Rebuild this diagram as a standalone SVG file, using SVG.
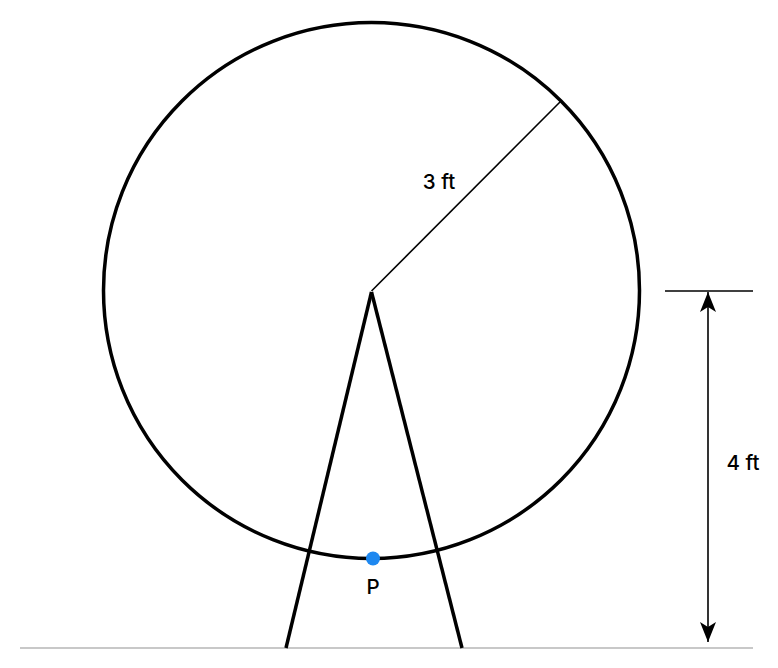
<svg xmlns="http://www.w3.org/2000/svg" width="778" height="668" viewBox="0 0 778 668">
<style>
.lbl{font-family:Inter,"Liberation Sans",sans-serif;font-size:20.5px;font-weight:500;fill:#000;}
.thick{stroke:#000;stroke-width:3.5;fill:none;}
.thin{stroke:#000;stroke-width:1.6;fill:none;}
</style>
<defs>
<marker id="ah" viewBox="0 0 20 16" refX="20" refY="8" markerWidth="20" markerHeight="16" markerUnits="userSpaceOnUse" orient="auto-start-reverse">
<path d="M0,0 L20,8 L0,16 L5,8 Z" fill="#000"/>
</marker>
</defs>
<rect width="778" height="668" fill="#fff"/>
<g id="ground"><line x1="20" y1="648" x2="753" y2="648" stroke="#c8c8c8" stroke-width="2"/></g>
<g id="stand">
<line class="thick" x1="371.5" y1="292" x2="286" y2="648"/>
<line class="thick" x1="371.5" y1="292" x2="462" y2="648"/>
</g>
<g id="wheel"><circle class="thick" cx="371.5" cy="290.5" r="268"/></g>
<g id="connectors">
<line class="thin" x1="371.5" y1="291" x2="561" y2="101"/>
<line class="thin" x1="665" y1="291" x2="753" y2="291"/>
<line class="thin" x1="708" y1="292" x2="708" y2="642" marker-start="url(#ah)" marker-end="url(#ah)"/>
</g>
<g id="point-p"><circle cx="373" cy="558.5" r="7" fill="#1E88F0"/></g>
<g id="labels">
<text class="lbl" x="439" y="189" text-anchor="middle">3 ft</text>
<text class="lbl" x="743" y="470" text-anchor="middle">4 ft</text>
<text class="lbl" x="373" y="594" text-anchor="middle">P</text>
</g>
</svg>
